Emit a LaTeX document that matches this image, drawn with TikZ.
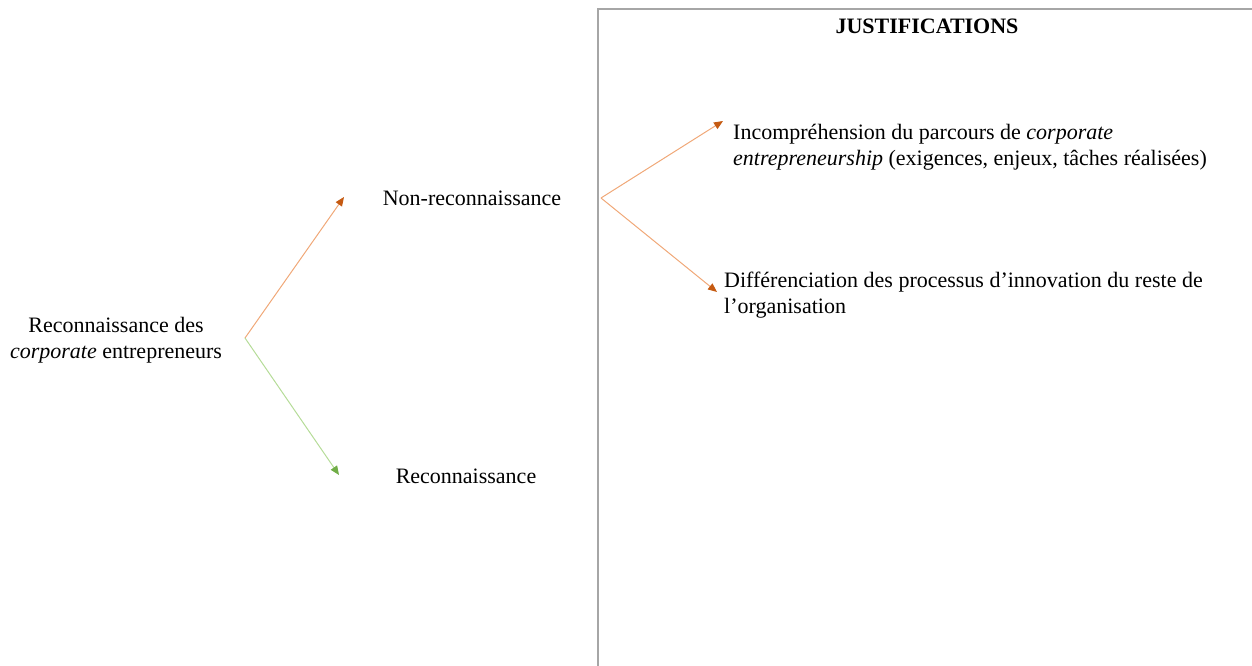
\documentclass[tikz,border=0pt]{standalone}
\usepackage{fontspec}
\setmainfont{Liberation Serif}
\usetikzlibrary{arrows.meta}
\definecolor{orline}{HTML}{F0A878}
\definecolor{ortip}{HTML}{C55A11}
\definecolor{grline}{HTML}{B5DC98}
\definecolor{grtip}{HTML}{70AD47}
\definecolor{boxgray}{HTML}{A6A6A6}
\tikzset{
  txt/.style={font=\fontsize{22}{26}\selectfont, inner sep=0pt},
  orarrow/.style={draw=orline, line width=1pt, -{Triangle[length=9pt,width=7.5pt,color=ortip]}},
  grarrow/.style={draw=grline, line width=1pt, -{Triangle[length=9pt,width=7.5pt,color=grtip]}},
  frame/.style={draw=boxgray, line width=1.6pt}
}
\begin{document}
\begin{tikzpicture}[x=1pt,y=-1pt]
\useasboundingbox (0,0) rectangle (1252,666);
% frame
\coordinate (fbl) at (598,667);
\coordinate (ftl) at (598,9);
\coordinate (ftr) at (1253,9);
\draw[frame] (fbl) -- (ftl) -- (ftr);
% texts
\node[txt, align=center, anchor=base] (root) at (116,358) {Reconnaissance des\\\textit{corporate} entrepreneurs};
\node[txt, anchor=base] (non) at (472,205) {Non-reconnaissance};
\node[txt, anchor=base] (rec) at (466,483) {Reconnaissance};
\node[txt, anchor=base, font=\fontsize{22}{26}\selectfont\bfseries] (just) at (927,34) {JUSTIFICATIONS};
\node[txt, align=left, anchor=base west] (inc) at (733,165) {Incompréhension du parcours de \textit{corporate}\\\textit{entrepreneurship} (exigences, enjeux, tâches réalisées)};
\node[txt, align=left, anchor=base west] (dif) at (724,313) {Différenciation des processus d’innovation du reste de\\l’organisation};
% connectors
\coordinate (f1) at (245,338);
\coordinate (t1) at (344,197);
\coordinate (t2) at (339,475);
\coordinate (f2) at (601,198);
\coordinate (t3) at (723,121);
\coordinate (t4) at (717,292);
\draw[orarrow] (f1) -- (t1);
\draw[grarrow] (f1) -- (t2);
\draw[orarrow] (f2) -- (t3);
\draw[orarrow] (f2) -- (t4);
\end{tikzpicture}
\end{document}
